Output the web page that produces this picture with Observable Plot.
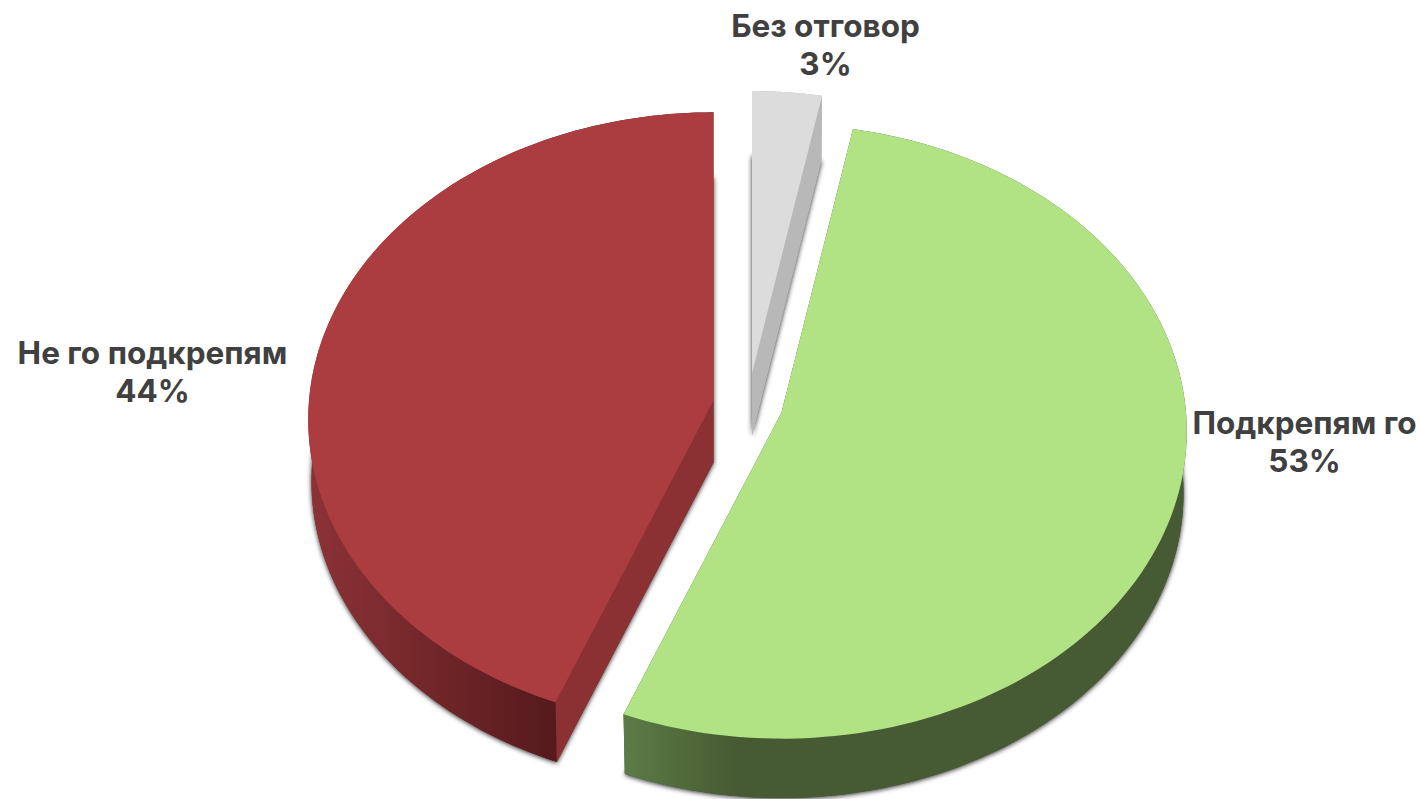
<!DOCTYPE html>
<html lang="bg">
<head>
<meta charset="utf-8">
<script src="https://cdn.jsdelivr.net/npm/d3@7"></script>
<script src="https://cdn.jsdelivr.net/npm/@observablehq/plot@0.6"></script>
<style>
html,body{margin:0;padding:0;background:#fff;overflow:hidden}
#chart svg{display:block}
.pie-shadow{filter:drop-shadow(0 1px 2.5px rgba(0,0,0,.85))}
</style>
</head>
<body>
<svg width="0" height="0" style="position:absolute">
  <defs>
    <linearGradient id="rimRed" gradientUnits="userSpaceOnUse" x1="310" x2="552" y1="0" y2="0">
      <stop offset="0" stop-color="#8c3236"/><stop offset="0.55" stop-color="#6f2528"/><stop offset="1" stop-color="#551a1d"/>
    </linearGradient>
    <linearGradient id="rimGreen" gradientUnits="userSpaceOnUse" x1="625" x2="735" y1="0" y2="0">
      <stop offset="0" stop-color="#5c7b47"/><stop offset="0.6" stop-color="#4f6839"/><stop offset="1" stop-color="#465a33"/>
    </linearGradient>
  </defs>
</svg>
<div id="chart"></div>
<script>
// Data
const categories = ["Без отговор", "Подкрепям го", "Не го подкрепям"];
const shares = [3, 53, 44];
const topColors = ["#dcdcdc", "#b1e283", "#ab3d41"];
const rimColors = ["#b8b8b8", "url(#rimGreen)", "url(#rimRed)"];
const cutColors = ["#b8b8b8", "#465a33", "#8b3033"];

// Layout of the exploded slices
const hubX = [751.5, 781, 713];
const hubY = [373, 412, 400];
const sliceScale = [0.98, 1, 1];
const labelX = [825, 1304, 152];
const labelY = [43, 440, 370];

const R = 404.5, A = 306, K = 0.0618, DEPTH = 62, BASE = 0.992;

const total = d3.sum(shares);
const startAngle = -360 * shares[2] / total;   // red slice ends at 12 o'clock
const order = [2, 0, 1];                        // clockwise from the start
const spans = new Map();
let run = startAngle;
for (const i of order) {
  const a1 = run + 360 * shares[i] / total;
  spans.set(i, [run, a1]);
  run = a1;
}

function project(i, deg, radius, bottom) {
  const t = deg * Math.PI / 180;
  const u = radius * Math.sin(t), v = radius * Math.cos(t);
  const s = sliceScale[i] / (1 + K * v), f = bottom ? BASE : 1;
  return {x: hubX[i] + R * u * s * f, y: hubY[i] - A * v * s * f + (bottom ? DEPTH : 0)};
}
function arc(i, bottom, reverse) {
  const [a0, a1] = spans.get(i);
  const angles = d3.range(0, 121).map(k => a0 + (a1 - a0) * k / 120);
  if (reverse) angles.reverse();
  return angles.map(a => project(i, a, 1, bottom));
}
const face = (i, bottom) => [project(i, 0, 0, bottom), ...arc(i, bottom)];
const rim = i => [...arc(i, false), ...arc(i, true, true)];
function cut(i, deg) {
  return [project(i, deg, 0, false), project(i, deg, 1, false), project(i, deg, 1, true), project(i, deg, 0, true)];
}

const poly = (rows, fill, extra = {}) => Plot.line(rows, {x: "x", y: "y", fill, stroke: "none", curve: "linear-closed", ...extra});

const marks = [];
for (const i of [2, 0, 1]) {
  const [a0, a1] = spans.get(i);
  marks.push(poly(face(i, true), cutColors[i], {className: "pie-shadow"}));
  marks.push(poly(cut(i, a0), cutColors[i]));
  marks.push(poly(cut(i, a1), cutColors[i]));
  marks.push(poly(rim(i), rimColors[i]));
  marks.push(poly(face(i, false), topColors[i]));
}

const labels = categories.map((c, i) => ({text: `${c}\n${shares[i]}%`, x: labelX[i], y: labelY[i]}));
marks.push(Plot.text(labels, {
  x: "x", y: "y", text: "text",
  fontFamily: "Inter, 'Noto Sans', sans-serif", fontWeight: 700, fontSize: 31.5,
  fill: "#404040", lineHeight: 1.22, textAnchor: "middle"
}));

const chart = Plot.plot({
  width: 1420, height: 799,
  margin: 0,
  style: {background: "#fff", overflow: "hidden"},
  x: {domain: [0, 1420], range: [0, 1420], axis: null},
  y: {domain: [0, 799], range: [0, 799], axis: null},
  marks
});
document.getElementById("chart").append(chart);
</script>
</body>
</html>
